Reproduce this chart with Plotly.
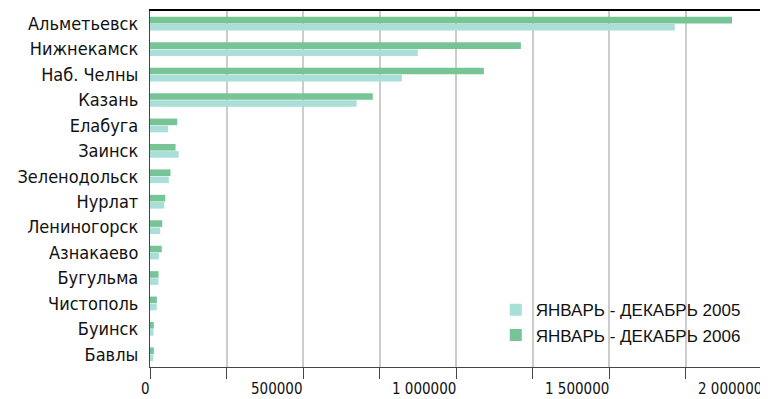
import plotly.graph_objects as go

cities = ["Альметьевск", "Нижнекамск", "Наб. Челны", "Казань", "Елабуга", "Заинск",
          "Зеленодольск", "Нурлат", "Лениногорск", "Азнакаево", "Бугульма",
          "Чистополь", "Буинск", "Бавлы"]
v2005 = [1715000, 875000, 823000, 675000, 59500, 94000, 61500, 46500, 33500, 29000,
         27500, 22000, 11500, 10500]
v2006 = [1902000, 1212000, 1091000, 728000, 89000, 83500, 67000, 50000, 40000, 38500,
         28000, 22500, 12500, 12500]
name2005 = "ЯНВАРЬ - ДЕКАБРЬ 2005"
name2006 = "ЯНВАРЬ - ДЕКАБРЬ 2006"
tick_vals = [0, 500000, 1000000, 1500000, 2000000]
tick_text = ["0", "500000", "1 000000", "1 500000", "2 000000"]

FONT = "DejaVu Sans Condensed, Liberation Sans Narrow, sans-serif"
LFONT = "Liberation Sans, Arial, sans-serif"

fig = go.Figure()
fig.add_trace(go.Bar(y=cities, x=v2006, orientation="h", name=name2006,
                     marker=dict(color="#77c597", line=dict(width=0)), legendrank=2))
fig.add_trace(go.Bar(y=cities, x=v2005, orientation="h", name=name2005,
                     marker=dict(color="#a9ded9", line=dict(width=0)), legendrank=1))

for v, t in zip(tick_vals, tick_text):
    fig.add_annotation(x=v, y=0, xref="x", yref="paper", text=t, showarrow=False,
                       xanchor="right", yanchor="top", yshift=-12, xshift=1,
                       borderpad=0,
                       font=dict(family=FONT, size=15, color="#111"))

fig.update_layout(
    width=760, height=391,
    margin=dict(l=142, r=6, t=3, b=32, autoexpand=False),
    plot_bgcolor="white", paper_bgcolor="white",
    barmode="group", bargap=0.44, bargroupgap=0.07,
    showlegend=True,
    legend=dict(x=0.565, y=0.21, xanchor="left", yanchor="top",
                bgcolor="rgba(0,0,0,0)", font=dict(family=LFONT, size=17, color="#111"),
                tracegroupgap=0, itemclick=False),
    xaxis=dict(range=[0, 2000000], tickvals=[i * 250000 for i in range(9)],
               showticklabels=False, ticks="outside", ticklen=11, tickcolor="#444",
               tickwidth=1.2, showgrid=True, gridcolor="#cccccc", gridwidth=1.5,
               showline=True, linecolor="#444", linewidth=1.2, zeroline=False,
               fixedrange=True),
    xaxis2=dict(overlaying="x", side="top", range=[0, 2000000], showline=True,
                linecolor="black", linewidth=1.5, showticklabels=False, ticks="",
                showgrid=False, zeroline=False),
    yaxis=dict(type="category", categoryorder="array", categoryarray=cities,
               range=[13.5, -0.5], showline=True, linecolor="#444", linewidth=1.2,
               ticks="", ticklabelstandoff=7, showgrid=False, automargin=False,
               tickfont=dict(family=FONT, size=18, color="#111")),
)
fig.add_trace(go.Scatter(x=[None], y=[None], xaxis="x2", showlegend=False, hoverinfo="skip"))

fig.write_html("out.html")
